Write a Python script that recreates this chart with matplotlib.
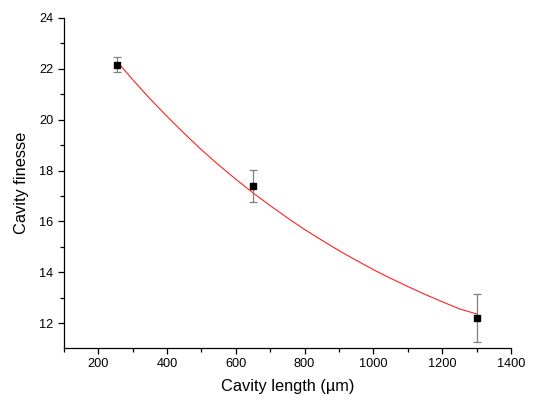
import matplotlib
matplotlib.use("Agg")
import matplotlib.pyplot as plt
from matplotlib.ticker import MultipleLocator

# Measured data
length_um = [256, 650, 1300]
finesse = [22.16, 17.40, 12.20]
finesse_err = [0.30, 0.64, 0.96]

# Fitted curve
curve_x = [258, 300, 350, 400, 450, 500, 550, 600, 650, 700, 750, 800, 850,
           900, 950, 1000, 1050, 1100, 1150, 1200, 1250, 1300]
curve_y = [22.24, 21.58, 20.83, 20.13, 19.46, 18.82, 18.22, 17.66, 17.12,
           16.62, 16.14, 15.68, 15.26, 14.85, 14.47, 14.10, 13.76, 13.44,
           13.13, 12.84, 12.56, 12.36]

x_label = "Cavity length (\u00b5m)"
y_label = "Cavity finesse"

plt.rcParams['font.family'] = ['Liberation Sans', 'DejaVu Sans']

fig = plt.figure(figsize=(5.41, 4.0), dpi=100)
ax = fig.add_axes([0.118, 0.13, 0.8265, 0.825])

ax.plot(curve_x, curve_y, color='#ff2020', lw=0.8, zorder=2)
ax.errorbar(length_um, finesse, yerr=finesse_err, fmt='none', ecolor='#808080',
            elinewidth=0.9, capsize=3, capthick=0.9, zorder=3)
ax.plot(length_um, finesse, 's', color='black', markersize=5, zorder=4)

ax.set_xlim(100, 1400)
ax.set_ylim(11.02, 24)
ax.xaxis.set_major_locator(MultipleLocator(200))
ax.xaxis.set_minor_locator(MultipleLocator(100))
ax.yaxis.set_major_locator(MultipleLocator(2))
ax.yaxis.set_minor_locator(MultipleLocator(1))

for s in ['top', 'right']:
    ax.spines[s].set_visible(False)
for s in ['left', 'bottom']:
    ax.spines[s].set_linewidth(0.9)

ax.tick_params(which='major', direction='out', length=4.5, width=0.9,
               labelsize=9.2, pad=3)
ax.tick_params(which='minor', direction='out', length=3, width=0.9)

ax.set_xlabel(x_label, fontsize=11.8, labelpad=6)
ax.set_ylabel(y_label, fontsize=11.8, labelpad=7)

fig.savefig("out.png", dpi=100)
